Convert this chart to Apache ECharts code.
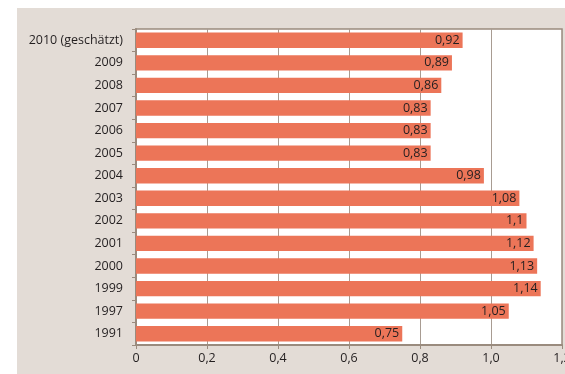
<!DOCTYPE html>
<html><head><meta charset="utf-8">
<script src="https://cdn.jsdelivr.net/npm/echarts@6/dist/echarts.min.js"></script>
<style>html,body{margin:0;padding:0;background:#fff;}#c{width:565px;height:374px;}</style>
</head><body><div id="c"></div>
<script>
const categories = ["2010 (geschätzt)","2009","2008","2007","2006","2005","2004","2003","2002","2001","2000","1999","1997","1991"];
const values = [0.92,0.89,0.86,0.83,0.83,0.83,0.98,1.08,1.1,1.12,1.13,1.14,1.05,0.75];
const valueLabels = ["0,92","0,89","0,86","0,83","0,83","0,83","0,98","1,08","1,1","1,12","1,13","1,14","1,05","0,75"];
const xTickLabels = ["0","0,2","0,4","0,6","0,8","1,0","1,2"];

const chart = echarts.init(document.getElementById('c'), null, {renderer:'canvas'});
const font = "'Open Sans', sans-serif";
chart.setOption({
  animation:false,
  graphic:[{type:'rect', z:-10, silent:true, shape:{x:17,y:8,width:560,height:380}, style:{fill:'#e3dcd6'}}],
  grid:{left:136,right:3,top:29,bottom:29,outerBoundsMode:'none',containLabel:false,show:true,backgroundColor:'#fff',borderColor:'#9a8b7e',borderWidth:1.5},
  xAxis:{type:'value',min:0,max:1.2,interval:0.2,
    axisLine:{show:true,lineStyle:{color:'#9a8b7e',width:2}},
    axisTick:{show:true,length:4,lineStyle:{color:'#9a8b7e'}},
    splitLine:{show:true,lineStyle:{color:'#a89c92',width:1}},
    axisLabel:{color:'#231f20',fontSize:12.5,fontFamily:font,margin:7,
      formatter:(v)=>xTickLabels[Math.round(v/0.2)]}},
  yAxis:{type:'category',inverse:true,data:categories,
    axisLine:{show:true,lineStyle:{color:'#9a8b7e',width:2}},
    axisTick:{show:true,length:4,lineStyle:{color:'#9a8b7e'}},
    axisLabel:{color:'#231f20',fontSize:12.5,fontFamily:font,margin:13}},
  series:[{type:'bar',data:values,barCategoryGap:'32%',
    itemStyle:{color:'#ec7558'},
    label:{show:true,position:'insideRight',distance:3,color:'#231f20',fontSize:12.5,fontFamily:font,
      formatter:(p)=>valueLabels[p.dataIndex]}}]
});
</script></body></html>
